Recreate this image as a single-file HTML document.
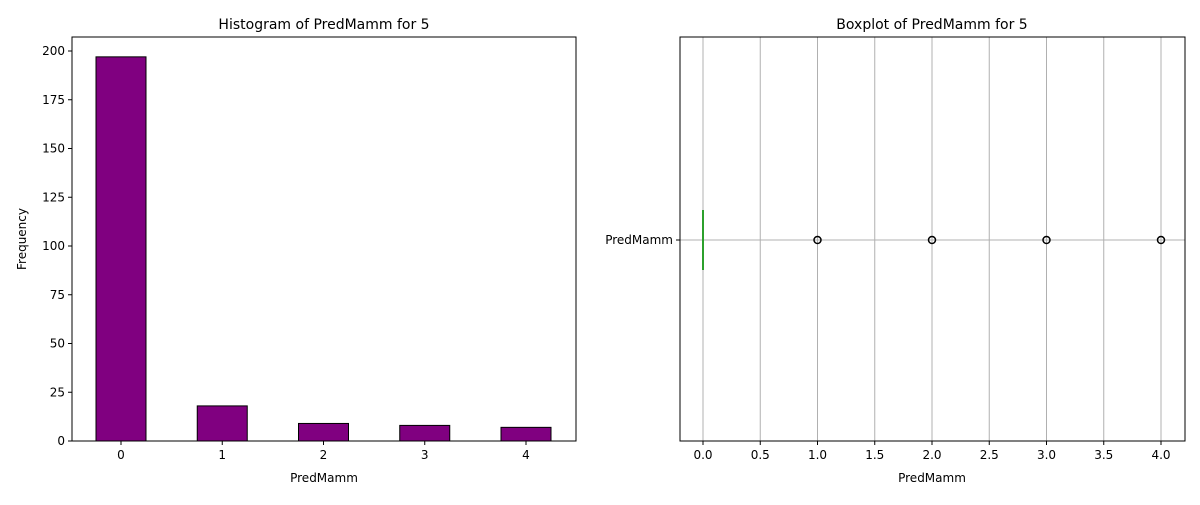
<!DOCTYPE html>
<html><head><meta charset="utf-8"><style>
body{margin:0;background:#fff;font-family:"Liberation Sans","DejaVu Sans",sans-serif}
text{font-family:"DejaVu Sans","Liberation Sans",sans-serif}
</style></head><body>
<svg id="s" width="1200" height="500" xmlns="http://www.w3.org/2000/svg"></svg>
<script>
const categories=[0,1,2,3,4];
const frequencies=[197,18,9,8,7];
const yTicks=[0,25,50,75,100,125,150,175,200];
const outliers=[1,2,3,4];
const boxMedian=0;
const xTicksBox=[0,0.5,1,1.5,2,2.5,3,3.5,4];
const NS="http://www.w3.org/2000/svg";
const s=document.getElementById('s');
function el(t,a,txt){const e=document.createElementNS(NS,t);for(const k in a)e.setAttribute(k,a[k]);if(txt!==undefined)e.textContent=txt;s.appendChild(e);return e;}
// left
const L={x0:72,x1:576,y0:37,y1:441};
const ly=v=>441-v*1.95;
const lx=c=>121+c*101.25;
let t;
t=el('text',{x:324,y:29,'text-anchor':'middle','font-size':14},'Histogram of PredMamm');

t.textContent='Histogram of PredMamm for 5';
categories.forEach((c,i)=>{
 const b=el('rect',{x:lx(c)-25,y:ly(frequencies[i]),width:50,height:441-ly(frequencies[i]),fill:'#800080',stroke:'#000','stroke-width':1});
 
 
 el('line',{x1:lx(c),x2:lx(c),y1:441,y2:445,stroke:'#000'});
 const tl=el('text',{x:lx(c),y:459,'text-anchor':'middle','font-size':12},String(c));
 
 
});
yTicks.forEach(v=>{
 el('line',{x1:68,x2:72,y1:ly(v),y2:ly(v),stroke:'#000'});
 const tl=el('text',{x:65,y:ly(v)+4,'text-anchor':'end','font-size':12},String(v));
 
 
});
el('rect',{x:72,y:37,width:504,height:404,fill:'none',stroke:'#000'});
t=el('text',{x:324,y:482,'text-anchor':'middle','font-size':12},'PredMamm');

t=el('text',{x:26,y:239,'text-anchor':'middle','font-size':12,transform:'rotate(-90 26 239)'},'Frequency');

// right
const rx=v=>703+v*114.5;
t=el('text',{x:932,y:29,'text-anchor':'middle','font-size':14},'Boxplot of PredMamm for 5');

xTicksBox.forEach(v=>{
 el('line',{x1:rx(v),x2:rx(v),y1:37,y2:441,stroke:'#b0b0b0'});
 el('line',{x1:rx(v),x2:rx(v),y1:441,y2:445,stroke:'#000'});
 const tl=el('text',{x:rx(v),y:459,'text-anchor':'middle','font-size':12},v.toFixed(1));
 
 
});
el('line',{x1:680,x2:1185,y1:240,y2:240,stroke:'#b0b0b0'});
el('line',{x1:676,x2:680,y1:240,y2:240,stroke:'#000'});
t=el('text',{x:673,y:244,'text-anchor':'end','font-size':12},'PredMamm');

const m=el('line',{x1:rx(boxMedian),x2:rx(boxMedian),y1:210,y2:270,stroke:'#2ca02c','stroke-width':2});


outliers.forEach(v=>{
 const c=el('circle',{cx:rx(v),cy:240,r:3.5,fill:'none',stroke:'#000','stroke-width':1.5});
 
 
});
el('rect',{x:680,y:37,width:505,height:404,fill:'none',stroke:'#000'});
t=el('text',{x:932,y:482,'text-anchor':'middle','font-size':12},'PredMamm');

</script>
</body></html>
